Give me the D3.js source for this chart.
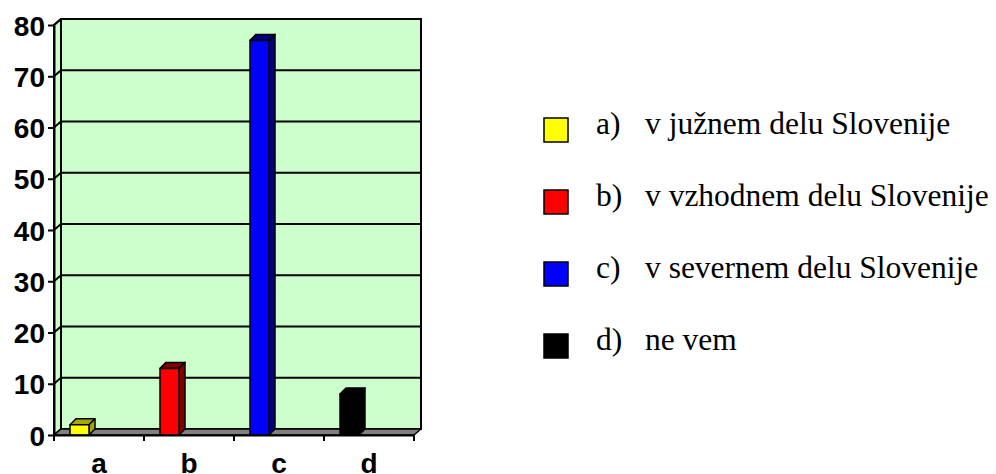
<!DOCTYPE html>
<html>
<head>
<meta charset="utf-8">
<script src="https://cdn.jsdelivr.net/npm/d3@7"></script>
<style>
  body { margin: 0; background: #fff; }
  svg { display: block; }
  .sans { font-family: "Liberation Sans", Arial, Helvetica, sans-serif; font-weight: bold; }
  .serif { font-family: "Liberation Serif", "Times New Roman", "DejaVu Serif", serif; }
</style>
</head>
<body>
<svg width="996" height="474"></svg>
<script>
var categories = ["a", "b", "c", "d"];
var values = [2, 13, 77, 8];
var frontColors = ["#ffff00", "#ff0000", "#0000ff", "#000000"];
var shadeColors = ["#a6a600", "#800000", "#000080", "#000000"];
var legendKeys = ["a)", "b)", "c)", "d)"];
var legendLabels = ["v južnem delu Slovenije", "v vzhodnem delu Slovenije",
                    "v severnem delu Slovenije", "ne vem"];
var yTicks = [0, 10, 20, 30, 40, 50, 60, 70, 80];

var svg = d3.select("svg");

var depth = {dx: 7, dy: -6},      // depth of the walls
    barDepth = {dx: 6, dy: -6};

var x = d3.scaleBand()
    .domain(categories)
    .range([54, 414]);

var y = d3.scaleLinear()
    .domain([0, 80])
    .range([435, 25]);

var x0 = x.range()[0], x1 = x.range()[1],
    yTop = y(80), yBot = y(0);

// back wall
svg.append("rect")
    .attr("x", x0 + depth.dx)
    .attr("y", yTop + depth.dy)
    .attr("width", x1 - x0)
    .attr("height", yBot - yTop)
    .attr("fill", "#ccffcc")
    .attr("stroke", "#000")
    .attr("stroke-width", 2);

// left side wall
svg.append("polygon")
    .attr("points", [[x0, yTop], [x0 + depth.dx, yTop + depth.dy],
                     [x0 + depth.dx, yBot + depth.dy], [x0, yBot]].join(" "))
    .attr("fill", "#ccffcc")
    .attr("stroke", "#000")
    .attr("stroke-width", 2)
    .attr("stroke-linejoin", "round");

// gridlines
var grid = svg.append("g")
    .attr("stroke", "#000")
    .attr("stroke-width", 2)
    .attr("fill", "none");

grid.selectAll("path")
    .data(yTicks.filter(function(d) { return d > 0; }))
    .enter().append("path")
    .attr("d", function(d) {
      return "M" + x0 + "," + y(d) +
             "L" + (x0 + depth.dx) + "," + (y(d) + depth.dy) +
             "L" + (x1 + depth.dx) + "," + (y(d) + depth.dy);
    });

// floor
svg.append("polygon")
    .attr("points", [[x0, yBot], [x0 + depth.dx, yBot + depth.dy],
                     [x1 + depth.dx, yBot + depth.dy], [x1, yBot]].join(" "))
    .attr("fill", "#808080")
    .attr("stroke", "#000")
    .attr("stroke-width", 1.5)
    .attr("stroke-linejoin", "round");

// bars
var barW = 19, barOff = 16;

var bars = svg.append("g")
    .selectAll("g")
    .data(values)
    .enter().append("g")
    .attr("stroke", "#000")
    .attr("stroke-width", 1.5)
    .attr("stroke-linejoin", "round");

bars.append("polygon")   // top
    .attr("fill", function(d, i) { return shadeColors[i]; })
    .attr("points", function(d, i) {
      var bx = x(categories[i]) + barOff, by = y(d);
      return [[bx, by], [bx + barDepth.dx, by + barDepth.dy],
              [bx + barW + barDepth.dx, by + barDepth.dy], [bx + barW, by]].join(" ");
    });

bars.append("polygon")   // side
    .attr("fill", function(d, i) { return shadeColors[i]; })
    .attr("points", function(d, i) {
      var bx = x(categories[i]) + barOff + barW, by = y(d);
      return [[bx, by], [bx + barDepth.dx, by + barDepth.dy],
              [bx + barDepth.dx, yBot + barDepth.dy], [bx, yBot]].join(" ");
    });

bars.append("rect")      // front
    .attr("fill", function(d, i) { return frontColors[i]; })
    .attr("x", function(d, i) { return x(categories[i]) + barOff; })
    .attr("y", function(d) { return y(d); })
    .attr("width", barW)
    .attr("height", function(d) { return yBot - y(d); });

// y axis
var yAxis = svg.append("g")
    .attr("transform", "translate(" + x0 + ",0)")
    .call(d3.axisLeft(y).tickValues(yTicks).tickSize(6).tickPadding(3).tickSizeOuter(0));

yAxis.attr("font-family", null).attr("font-size", null);
yAxis.select(".domain").attr("stroke-width", 2);
yAxis.selectAll(".tick line").attr("stroke-width", 2);
yAxis.selectAll("text")
    .attr("class", "sans")
    .attr("dy", "0.36em")
    .style("font-size", "28px")
    .attr("fill", "#000");

// x axis: ticks on band edges, labels on centres
var xAxis = svg.append("g")
    .attr("transform", "translate(0," + yBot + ")")
    .call(d3.axisBottom(x).tickSize(0).tickPadding(0).tickSizeOuter(0));

xAxis.attr("font-family", null).attr("font-size", null);
xAxis.select(".domain").attr("stroke-width", 2);
xAxis.selectAll("text")
    .attr("class", "sans")
    .attr("y", 38)
    .attr("dy", null)
    .style("font-size", "28px")
    .attr("fill", "#000");

xAxis.selectAll(".edge")
    .data(categories.map(function(c) { return x(c); }).concat([x1]))
    .enter().append("line")
    .attr("class", "edge")
    .attr("x1", function(d) { return d; })
    .attr("x2", function(d) { return d; })
    .attr("y1", 0)
    .attr("y2", 6)
    .attr("stroke", "#000")
    .attr("stroke-width", 2);

// legend
var legend = svg.append("g")
    .selectAll("g")
    .data(legendLabels)
    .enter().append("g")
    .attr("transform", function(d, i) { return "translate(0," + (130 + i * 72) + ")"; });

legend.append("rect")
    .attr("x", 544)
    .attr("y", -12)
    .attr("width", 24)
    .attr("height", 24)
    .attr("fill", function(d, i) { return frontColors[i]; })
    .attr("stroke", "#000")
    .attr("stroke-width", 1.5);

legend.append("text")
    .attr("class", "serif")
    .attr("x", 596)
    .attr("y", 4)
    .style("font-size", "31.5px")
    .attr("fill", "#000")
    .text(function(d, i) { return legendKeys[i]; });

legend.append("text")
    .attr("class", "serif")
    .attr("x", 645)
    .attr("y", 4)
    .style("font-size", "31.5px")
    .attr("fill", "#000")
    .text(function(d) { return d; });
</script>
</body>
</html>
